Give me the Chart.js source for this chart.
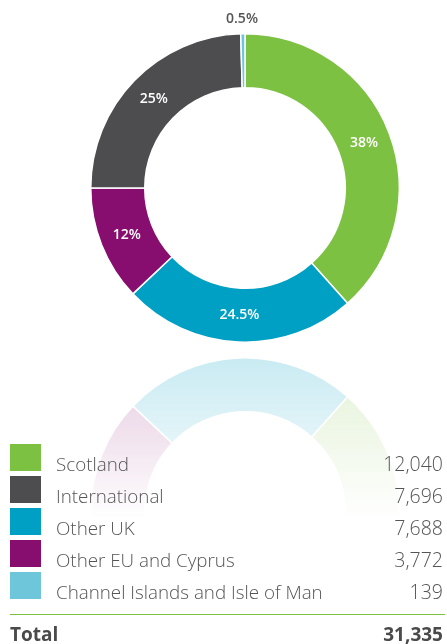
<!DOCTYPE html>
<html>
<head>
<meta charset="utf-8">
<script src="https://cdn.jsdelivr.net/npm/chart.js@4/dist/chart.umd.min.js"></script>
<style>
    body { margin: 0; background: #fff; width: 447px; height: 644px; overflow: hidden; position: relative; font-family: "Open Sans", sans-serif; }
    #main { position: absolute; left: 0; top: 0; }
    #reflect-wrap {
        position: absolute; left: 0; top: 350px; width: 447px; height: 200px; overflow: hidden;
        opacity: 0.22;
        -webkit-mask-image: linear-gradient(to bottom, #000 0px, rgba(0,0,0,0.5) 90px, transparent 170px);
        mask-image: linear-gradient(to bottom, #000 0px, rgba(0,0,0,0.5) 90px, transparent 170px);
    }
    #reflect { transform: scaleY(-1); }
    .row { position: absolute; left: 10px; width: 433px; height: 27px; }
    .swatch { position: absolute; left: 0; top: 0; width: 31px; height: 27px; }
    .name { position: absolute; left: 46px; top: 9px; font-size: 18.8px; font-weight: 300; color: #555; white-space: nowrap; line-height: 22px; }
    .val { position: absolute; right: 0; top: 9px; font-size: 19.5px; font-weight: 300; color: #555; line-height: 22px; }
    #rule { position: absolute; left: 10px; top: 614px; width: 435px; height: 1px; background: #7dc142; }
    #total { position: absolute; left: 10px; top: 622px; width: 433px; font-size: 19px; line-height: 24px; font-weight: bold; color: #4a4a4a; }
    #total span:last-child { position: absolute; right: 0; }
</style>
</head>
<body>
<canvas id="main" width="447" height="350"></canvas>
<div id="reflect-wrap"><canvas id="reflect" width="447" height="350"></canvas></div>
<div id="legend"></div>
<div id="rule"></div>
<div id="total"><span>Total</span><span id="total-val"></span></div>
<script>
// order as drawn clockwise from 12 o'clock
const regions = ['Scotland', 'Other UK', 'Other EU and Cyprus', 'International', 'Channel Islands and Isle of Man'];
const students = [12040, 7688, 3772, 7696, 139];
const shares = ['38%', '24.5%', '12%', '25%', '0.5%'];
const colours = ['#7dc142', '#00a0c4', '#870e6e', '#4d4d4f', '#6ec6db'];

// legend order in the table
const legendOrder = ['Scotland', 'International', 'Other UK', 'Other EU and Cyprus', 'Channel Islands and Isle of Man'];
const totalStudents = '31,335';

const sliceLabels = {
    id: 'sliceLabels',
    afterDatasetsDraw(chart, args, opts) {
        if (!opts.show) return;
        const ctx = chart.ctx;
        const meta = chart.getDatasetMeta(0);
        ctx.save();
        ctx.font = '600 14px "Open Sans", sans-serif';
        ctx.textAlign = 'center';
        ctx.textBaseline = 'middle';
        meta.data.forEach((arc, i) => {
            if (i === shares.length - 1) {
                // tiny slice: label sits above the ring
                ctx.fillStyle = '#555';
                ctx.fillText(shares[i], arc.x - 3, arc.y - arc.outerRadius - 15);
            } else {
                const p = arc.tooltipPosition();
                ctx.fillStyle = '#fff';
                ctx.fillText(shares[i], p.x, p.y);
            }
        });
        ctx.restore();
    }
};

const makeChart = (id, showLabels) => {
    return new Chart(document.getElementById(id), {
        type: 'doughnut',
        data: {
            labels: regions,
            datasets: [{
                data: students,
                backgroundColor: colours,
                borderColor: '#fff',
                borderWidth: 1.5
            }]
        },
        options: {
            responsive: false,
            animation: false,
            cutout: '65%',
            layout: { padding: { left: 90, right: 47, top: 33, bottom: 7 } },
            plugins: {
                legend: { display: false },
                tooltip: { enabled: false },
                sliceLabels: { show: showLabels }
            }
        },
        plugins: [sliceLabels]
    });
};

makeChart('main', true);
makeChart('reflect', false);

// table legend
const legend = document.getElementById('legend');
legendOrder.forEach((name, r) => {
    const i = regions.indexOf(name);
    const row = document.createElement('div');
    row.className = 'row';
    row.style.top = (444 + r * 32) + 'px';
    row.innerHTML = '<div class="swatch" style="background:' + colours[i] + '"></div>' +
        '<div class="name">' + name + '</div>' +
        '<div class="val">' + students[i].toLocaleString('en-GB') + '</div>';
    legend.appendChild(row);
});
document.getElementById('total-val').textContent = totalStudents;
</script>
</body>
</html>
